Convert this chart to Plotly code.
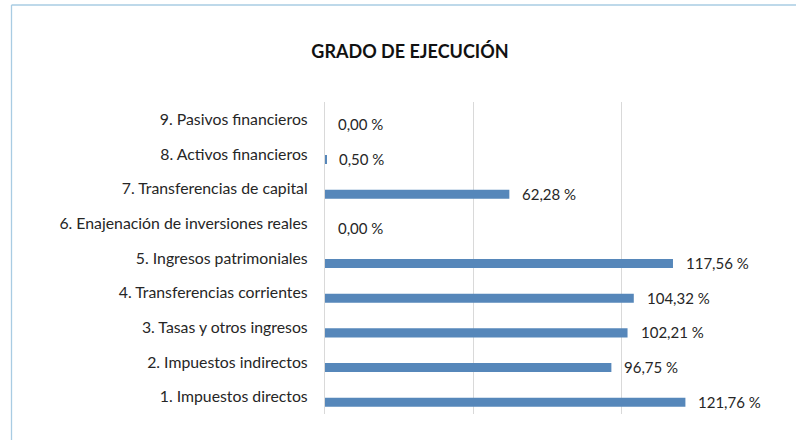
import plotly.graph_objects as go

categories = [
    "1. Impuestos directos",
    "2. Impuestos indirectos",
    "3. Tasas y otros ingresos",
    "4. Transferencias corrientes",
    "5. Ingresos patrimoniales",
    "6. Enajenación de inversiones reales",
    "7. Transferencias de capital",
    "8. Activos financieros",
    "9. Pasivos financieros",
]
values = [121.76, 96.75, 102.21, 104.32, 117.56, 0.00, 62.28, 0.50, 0.00]
value_labels = ["121,76 %", "96,75 %", "102,21 %", "104,32 %", "117,56 %",
                "0,00 %", "62,28 %", "0,50 %", "0,00 %"]
x_gridlines = [0, 50, 100, 150]

FONT = "Lato"
TXT = "#262626"
ypos = list(range(len(categories)))

fig = go.Figure()
fig.add_trace(go.Bar(
    x=values, y=ypos, orientation="h",
    width=0.26, offset=-0.29,
    marker=dict(color="#5687BA", line=dict(width=0)),
    hoverinfo="skip", showlegend=False,
))

for v, yi, t in zip(values, ypos, value_labels):
    fig.add_annotation(x=v, y=yi - 0.14, text=t, showarrow=False,
                       xanchor="left", yanchor="middle", xshift=11,
                       font=dict(family=FONT, size=15, color=TXT))

fig.update_layout(
    width=796, height=440,
    margin=dict(l=325, r=27, t=102, b=26),
    paper_bgcolor="white", plot_bgcolor="white",
    title=dict(text="<b>GRADO DE EJECUCIÓN</b>", x=0.515, xanchor="center",
               y=1 - 52 / 440, yanchor="middle",
               font=dict(family=FONT, size=18, color="#111")),
    xaxis=dict(range=[0, 150], tickvals=x_gridlines, showticklabels=False,
               showgrid=True, gridcolor="#D9D9D9", gridwidth=1.3,
               zeroline=False, showline=False, fixedrange=True),
    yaxis=dict(range=[-0.5, len(categories) - 0.5], tickvals=ypos,
               ticktext=categories, showgrid=False, zeroline=False,
               showline=True, linecolor="#D9D9D9", linewidth=1.3,
               ticks="", ticklabelstandoff=13, automargin=False,
               fixedrange=True,
               tickfont=dict(family=FONT, size=15.8, color=TXT)),
    shapes=[
        dict(type="line", xref="paper", yref="paper",
             x0=-(325 - 11.5) / 444, x1=(796 - 325) / 444 + 0.01,
             y0=1 + (102 - 5) / 312, y1=1 + (102 - 5) / 312,
             line=dict(color="#A9CCE3", width=1.3)),
        dict(type="line", xref="paper", yref="paper",
             x0=-(325 - 11.5) / 444, x1=-(325 - 11.5) / 444,
             y0=1 + (102 - 5) / 312, y1=-0.2,
             line=dict(color="#A9CCE3", width=1.3)),
    ],
)

fig.write_html("out.html",
               config={"displayModeBar": False},
               post_script="document.body.style.margin='0';document.body.style.overflow='hidden';")
